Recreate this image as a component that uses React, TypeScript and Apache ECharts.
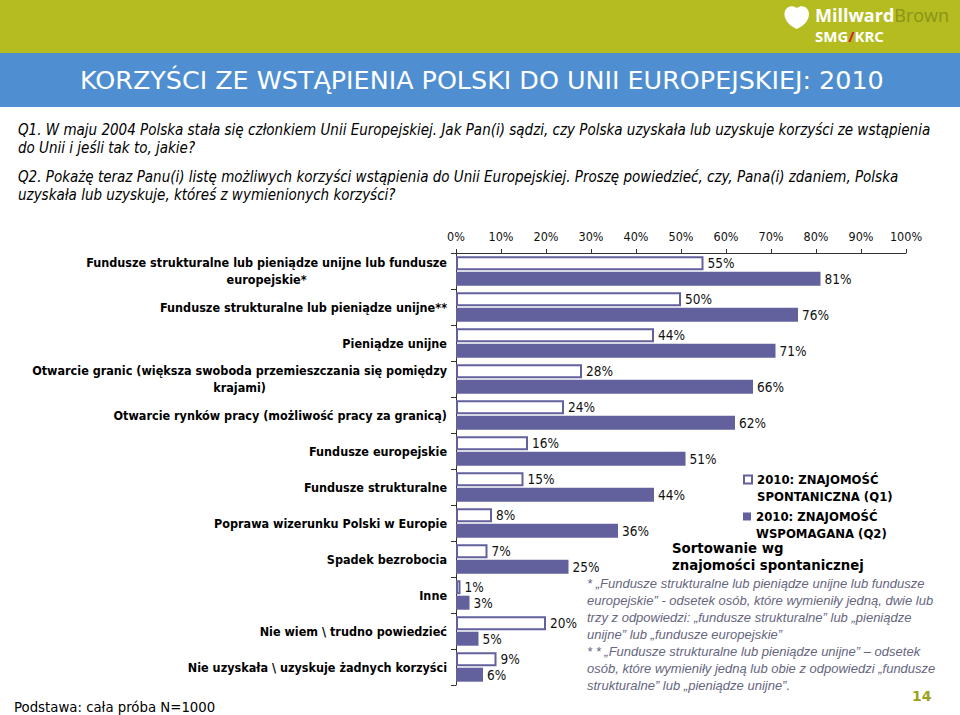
import React, { useEffect, useRef } from "react";
import * as echarts from "echarts";

// ---------- DATA ----------
const categories: string[] = [
  "Fundusze strukturalne lub pieniądze unijne lub fundusze\neuropejskie*",
  "Fundusze strukturalne lub pieniądze unijne**",
  "Pieniądze unijne",
  "Otwarcie granic (większa swoboda przemieszczania się pomiędzy\nkrajami)",
  "Otwarcie rynków pracy (możliwość pracy za granicą)",
  "Fundusze europejskie",
  "Fundusze strukturalne",
  "Poprawa wizerunku Polski w Europie",
  "Spadek bezrobocia",
  "Inne",
  "Nie wiem \\ trudno powiedzieć",
  "Nie uzyskała \\ uzyskuje żadnych korzyści",
];
const spontaneous: number[] = [55, 50, 44, 28, 24, 16, 15, 8, 7, 1, 20, 9];
const aided: number[] = [81, 76, 71, 66, 62, 51, 44, 36, 25, 3, 5, 6];
const seriesNames: string[] = [
  "2010: ZNAJOMOŚĆ\nSPONTANICZNA (Q1)",
  "2010: ZNAJOMOŚĆ\nWSPOMAGANA (Q2)",
];
const axisMin = 0;
const axisMax = 100;
const axisStep = 10;

const titleText = "KORZYŚCI ZE WSTĄPIENIA POLSKI DO UNII EUROPEJSKIEJ: 2010";
const q1Lines: string[] = [
  "Q1. W maju 2004 Polska stała się członkiem Unii Europejskiej. Jak Pan(i) sądzi, czy Polska uzyskała lub uzyskuje korzyści ze wstąpienia",
  "do Unii i jeśli tak to, jakie?",
];
const q2Lines: string[] = [
  "Q2. Pokażę teraz Panu(i) listę możliwych korzyści wstąpienia do Unii Europejskiej. Proszę powiedzieć, czy, Pana(i) zdaniem, Polska",
  "uzyskała lub uzyskuje, któreś z wymienionych korzyści?",
];
const sortLines: string[] = ["Sortowanie wg", "znajomości spontanicznej"];
const footnoteLines: string[] = [
  "* „Fundusze strukturalne lub pieniądze unijne lub fundusze",
  "europejskie” - odsetek osób, które wymieniły jedną, dwie lub",
  "trzy z odpowiedzi: „fundusze strukturalne” lub „pieniądze",
  "unijne” lub „fundusze europejskie”",
  "* * „Fundusze strukturalne lub pieniądze unijne” – odsetek",
  "osób, które wymieniły jedną lub obie z odpowiedzi „fundusze",
  "strukturalne” lub „pieniądze unijne”.",
];
const baseText = "Podstawa: cała próba N=1000";
const pageNumber = "14";

// ---------- STYLE ----------
const PURPLE = "#62619d";
const GREEN = "#b4bc1f";
const BLUE = "#4f8fd1";
const COND = "'DejaVu Sans Condensed', 'DejaVu Sans', sans-serif";
const VERD = "'DejaVu Sans', sans-serif";
const ARIAL = "'Liberation Sans', Arial, sans-serif";
const LOGOFONT = "'Open Sans', sans-serif";

echarts.graphic.registerShape(
  "logo",
  echarts.graphic.extendPath(
    "M4 16 C1 8 8 1 15 6 C22 1 29 8 26 16 C24 22 19 25 15 27 C11 25 6 22 4 16 Z M9 15 C8 10 13 8 15 12 C17 8 22 10 21 15 C20 18 17 20 15 21 C13 20 10 18 9 15 Z",
    {}
  )
);

export default function App() {
  const ref = useRef<HTMLDivElement>(null);

  useEffect(() => {
    document.body.style.margin = "0";
    const chart = echarts.init(ref.current!, undefined, { renderer: "svg" });

    const graphics: any[] = [
      { type: "rect", shape: { x: 0, y: 0, width: 960, height: 53 }, style: { fill: GREEN }, silent: true },
      { type: "rect", shape: { x: 0, y: 53, width: 960, height: 54 }, style: { fill: BLUE }, silent: true },
      {
        type: "text", x: 80, y: 80,
        style: { text: titleText, fill: "#ffffff", font: `25.4px ${VERD}`, verticalAlign: "middle" },
      },
      {
        type: "logo", x: 781, y: 2, scaleX: 1.05, scaleY: 1.0,
        style: { fill: "#ffffff", fillRule: "evenodd" },
      },
      {
        type: "text", x: 815, y: 15,
        style: {
          text: "{a|Millward}{b|Brown}", verticalAlign: "middle",
          rich: {
            a: { fill: "#ffffff", fontFamily: LOGOFONT, fontWeight: "bold", fontSize: 18, lineHeight: 18 },
            b: { fill: "#8a9419", fontFamily: LOGOFONT, fontWeight: "normal", fontSize: 18, lineHeight: 18 },
          },
        },
      },
      {
        type: "text", x: 815, y: 36,
        style: {
          text: "{a|SMG}{r|/}{a|KRC}", verticalAlign: "middle",
          rich: {
            a: { fill: "#ffffff", fontFamily: LOGOFONT, fontWeight: "bold", fontSize: 15, lineHeight: 15 },
            r: { fill: "#d0202a", fontFamily: LOGOFONT, fontWeight: "bold", fontSize: 15, lineHeight: 15 },
          },
        },
      },
      {
        type: "text", x: 18, y: 121,
        style: {
          text: q1Lines.join("\n"), fill: "#000000",
          font: `italic 15px ${COND}`, lineHeight: 18,
        },
      },
      {
        type: "text", x: 18, y: 168,
        style: {
          text: q2Lines.join("\n"), fill: "#000000",
          font: `italic 15px ${COND}`, lineHeight: 18,
        },
      },
      {
        type: "text", x: 672, y: 540,
        style: {
          text: sortLines.join("\n"), fill: "#000000",
          font: `bold 13.3px ${VERD}`, lineHeight: 17,
        },
      },
      {
        type: "text", x: 587, y: 575,
        style: {
          text: footnoteLines.join("\n"), fill: "#66667e",
          font: `italic 13px ${ARIAL}`, lineHeight: 17,
        },
      },
      {
        type: "text", x: 912, y: 696,
        style: { text: pageNumber, fill: "#9aa21c", font: `bold 14px ${VERD}`, verticalAlign: "middle" },
      },
      {
        type: "text", x: 14, y: 707,
        style: { text: baseText, fill: "#000000", font: `13.3px ${VERD}`, verticalAlign: "middle" },
      },
    ];

    const legendText = {
      fontFamily: COND, fontWeight: "bold" as const, fontSize: 13, color: "#000", lineHeight: 17,
    };
    const legendFmt = (name: string) => "\n" + name;

    chart.setOption({
      animation: false,
      graphic: { elements: graphics },
      legend: [
        {
          data: [seriesNames[0]], left: 743, top: 454, padding: 0, formatter: legendFmt,
          itemWidth: 8, itemHeight: 8, icon: "rect", textStyle: legendText,
        },
        {
          data: [seriesNames[1]], left: 743, top: 491, padding: 0, formatter: legendFmt,
          itemWidth: 8, itemHeight: 8, icon: "rect", textStyle: legendText,
        },
      ],
      grid: { left: 456, right: 54, top: 253, bottom: 30, containLabel: false },
      xAxis: {
        type: "value", position: "top", min: axisMin, max: axisMax, interval: axisStep,
        axisLine: { show: true, lineStyle: { color: "#333", width: 1 } },
        axisTick: { show: true, length: 4, lineStyle: { color: "#333" } },
        splitLine: { show: false },
        axisLabel: { formatter: "{value}%", fontFamily: COND, fontSize: 12.5, color: "#111", margin: 10 },
      },
      yAxis: {
        type: "category", inverse: true, data: categories,
        axisLine: { show: true, lineStyle: { color: "#333", width: 1 } },
        axisTick: { show: true, length: 5, lineStyle: { color: "#333" } },
        axisLabel: {
          margin: 9, align: "right", interval: 0,
          formatter: (v: string) => v.split("\n").map((l) => `{c|${l}}`).join("\n"),
          rich: {
            c: { align: "center", fontFamily: COND, fontWeight: "bold", fontSize: 12.5, lineHeight: 17, color: "#000" },
          },
        },
      },
      series: [
        {
          name: seriesNames[0], type: "bar", data: spontaneous, barWidth: 14, barGap: "10%",
          itemStyle: { color: "#ffffff", borderColor: PURPLE, borderWidth: 2 },
          label: { show: true, position: "right", distance: 4, formatter: "{c}%", fontFamily: COND, fontSize: 13.5, color: "#111" },
        },
        {
          name: seriesNames[1], type: "bar", data: aided, barWidth: 14,
          itemStyle: { color: PURPLE },
          label: { show: true, position: "right", distance: 4, formatter: "{c}%", fontFamily: COND, fontSize: 13.5, color: "#111" },
        },
      ],
    });

    return () => chart.dispose();
  }, []);

  return (
    <div
      ref={ref}
      style={{ position: "absolute", left: 0, top: 0, width: 960, height: 715 }}
    />
  );
}
